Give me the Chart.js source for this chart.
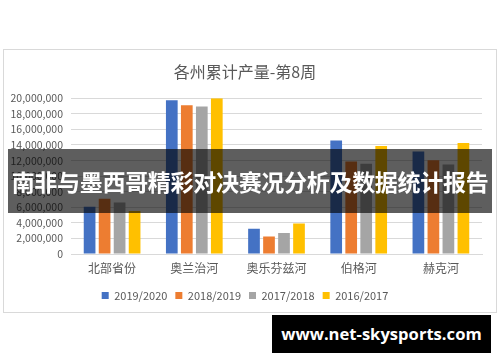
<!DOCTYPE html>
<html>
<head>
<meta charset="utf-8">
<script src="https://cdn.jsdelivr.net/npm/chart.js@4/dist/chart.umd.min.js"></script>
<style>
  html, body { margin: 0; padding: 0; background: #fff; }
  body { width: 500px; height: 362px; position: relative; overflow: hidden; }
  #card {
    position: absolute; left: 3px; top: 49px; width: 492px; height: 262px;
    border: 1px solid #d9d9d9; background: #fff;
  }
  #banner {
    position: absolute; left: 8px; top: 149px; width: 484px; height: 64px;
    background: rgba(0, 0, 0, 0.63); color: #fff;
    font: bold 23px "Noto Sans CJK SC", sans-serif;
    line-height: 64px; text-align: center; white-space: nowrap; letter-spacing: -0.3px;
  }
  #mark {
    position: absolute; left: 272px; top: 315px; width: 219px; height: 38px;
    background: #000; color: #fff;
    font: bold 16.6px "Open Sans", sans-serif;
    line-height: 38px; text-align: center; white-space: nowrap;
  }
</style>
</head>
<body>
<div id="card"><canvas id="chart" width="492" height="262"></canvas></div>
<div id="banner">南非与墨西哥精彩对决赛况分析及数据统计报告</div>
<div id="mark">www.net-skysports.com</div>
<script>
  'use strict';

  var categories = ['北部省份', '奥兰治河', '奥乐芬兹河', '伯格河', '赫克河'];
  var seasons = ['2019/2020', '2018/2019', '2017/2018', '2016/2017'];
  var s2019 = [6080000, 19740000, 3230000, 14560000, 13150000];
  var s2018 = [7100000, 19100000, 2250000, 11880000, 12040000];
  var s2017 = [6600000, 18940000, 2680000, 11570000, 11500000];
  var s2016 = [5530000, 20000000, 3900000, 13870000, 14250000];
  var colors = ['#4472C4', '#ED7D31', '#A5A5A5', '#FFC000'];

  var font = '"Noto Sans CJK SC", sans-serif';
  var seriesValues = [s2019, s2018, s2017, s2016];

  var datasets = seasons.map(function (name, i) {
    return {
      label: name,
      data: seriesValues[i],
      backgroundColor: colors[i],
      borderWidth: 0,
      categoryPercentage: 0.73,
      barPercentage: 0.78
    };
  });

  new Chart('chart', {
    type: 'bar',
    data: { labels: categories, datasets: datasets },
    options: {
      responsive: false,
      animation: false,
      layout: { padding: { left: 4, right: 14, bottom: 1 } },
      plugins: {
        tooltip: { enabled: false },
        title: {
          display: true,
          text: '各州累计产量-第8周',
          color: '#595959',
          font: { family: font, size: 16, weight: 'normal' },
          padding: { top: 12, bottom: 17 }
        },
        legend: {
          position: 'bottom',
          labels: {
            boxWidth: 7,
            boxHeight: 7,
            padding: 8,
            color: '#595959',
            font: { family: font, size: 11 }
          }
        }
      },
      scales: {
        x: {
          afterFit: function (scale) { scale.height = 28; },
          grid: { display: false },
          border: { color: '#d9d9d9' },
          ticks: { color: '#595959', font: { family: font, size: 12, lineHeight: 1 }, padding: 0 }
        },
        y: {
          min: 0,
          max: 20000000,
          afterFit: function (scale) { scale.width = 63; },
          grid: { color: '#d9d9d9', drawTicks: false },
          border: { display: false },
          ticks: {
            stepSize: 2000000,
            autoSkip: false,
            padding: 8,
            color: '#595959',
            font: { family: font, size: 10.5 },
            callback: function (v) { return v.toLocaleString('en-US'); }
          }
        }
      }
    }
  });
</script>
</body>
</html>
